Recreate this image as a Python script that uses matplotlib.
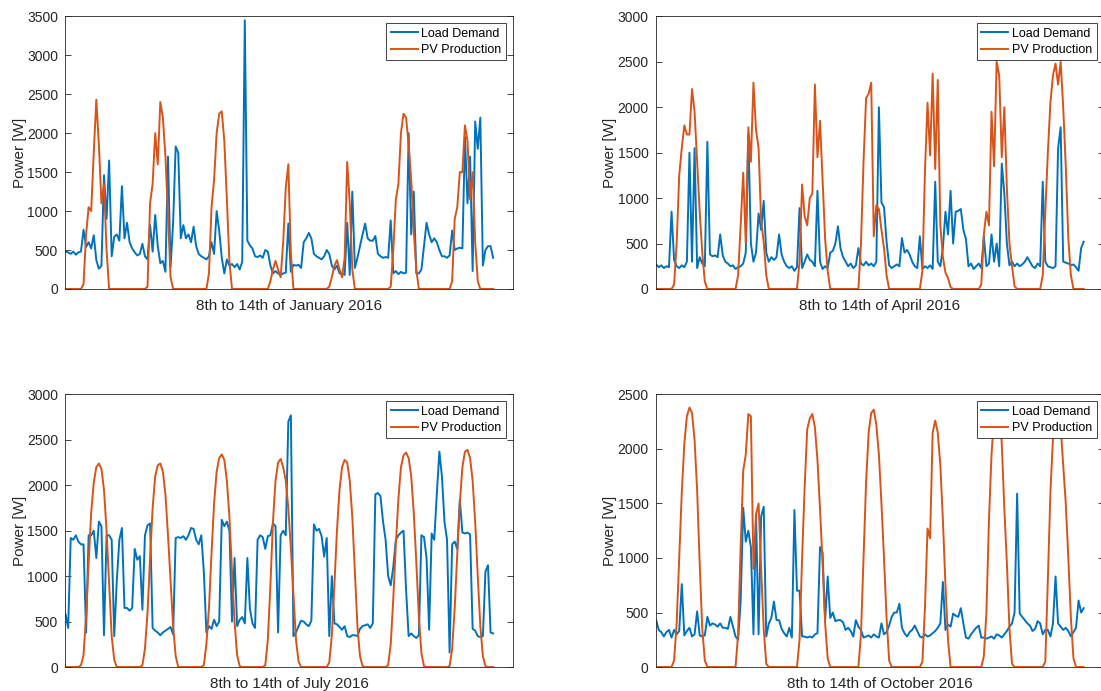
import numpy as np
import matplotlib
matplotlib.use('Agg')
from matplotlib import pyplot as plt

plt.rcParams['font.family'] = ['Liberation Sans', 'DejaVu Sans']

# hourly values, one row per day (8th..14th)
jan_load = [
    480, 470, 450, 480, 440, 470, 480, 760, 540, 600, 520, 690, 370, 260, 300, 1460, 900, 1650, 420, 670, 700, 620, 1320, 650,
    850, 600, 520, 470, 430, 450, 580, 420, 380, 820, 480, 950, 550, 330, 360, 220, 1700, 280, 850, 1830, 1750, 650, 820, 650,
    700, 600, 800, 550, 450, 420, 400, 380, 420, 600, 450, 1000, 750, 400, 200, 380, 300, 320, 280, 320, 250, 350, 3450, 620,
    560, 520, 420, 410, 430, 400, 500, 480, 300, 200, 230, 200, 180, 200, 210, 840, 220, 310, 300, 310, 270, 600, 650, 720,
    650, 450, 420, 400, 380, 420, 500, 450, 300, 250, 300, 200, 200, 180, 850, 180, 1250, 270, 400, 550, 700, 840, 650, 620,
    620, 680, 450, 420, 400, 410, 400, 880, 200, 230, 190, 220, 200, 210, 2000, 700, 1250, 200, 200, 250, 550, 850, 700, 600,
    650, 600, 500, 420, 420, 400, 430, 750, 500, 520, 530, 520, 1950, 1100, 1700, 230, 2150, 1800, 2200, 300, 500, 550, 550, 400,
]
jan_pv = [
    0, 0, 0, 0, 0, 0, 0, 60, 700, 1050, 1000, 1750, 2430, 1850, 1100, 1350, 500, 0, 0, 0, 0, 0, 0, 0,
    0, 0, 0, 0, 0, 0, 0, 0, 30, 1100, 1350, 2000, 1600, 2400, 2200, 1700, 950, 150, 0, 0, 0, 0, 0, 0,
    0, 0, 0, 0, 0, 0, 0, 0, 200, 1050, 1400, 2000, 2250, 2280, 1900, 1150, 350, 0, 0, 0, 0, 0, 0, 0,
    0, 0, 0, 0, 0, 0, 0, 0, 100, 250, 360, 250, 150, 600, 1300, 1600, 450, 0, 0, 0, 0, 0, 0, 0,
    0, 0, 0, 0, 0, 0, 0, 30, 150, 300, 370, 250, 150, 400, 1630, 1100, 250, 0, 0, 0, 0, 0, 0, 0,
    0, 0, 0, 0, 0, 0, 0, 30, 500, 1150, 1350, 2000, 2250, 2200, 1850, 1400, 750, 250, 0, 0, 0, 0, 0, 0,
    0, 0, 0, 0, 0, 0, 0, 100, 900, 1050, 1500, 1500, 2100, 1900, 1150, 1500, 600, 100, 0, 0, 0, 0, 0, 0,
]

apr_load = [
    270, 240, 260, 230, 250, 240, 850, 320, 250, 230, 260, 240, 300, 1500, 300, 1550, 230, 350, 280, 250, 1620, 380, 360, 370,
    350, 600, 370, 300, 280, 250, 260, 220, 240, 250, 280, 400, 1700, 500, 300, 400, 830, 650, 970, 400, 300, 350, 320, 350,
    600, 380, 300, 250, 230, 250, 200, 240, 890, 230, 300, 380, 320, 300, 250, 1080, 300, 220, 250, 230, 400, 420, 500, 690,
    450, 350, 300, 250, 280, 230, 260, 450, 280, 260, 300, 260, 280, 250, 300, 2000, 950, 900, 520, 260, 230, 250, 270, 250,
    560, 400, 430, 380, 300, 250, 230, 580, 220, 250, 230, 260, 220, 1180, 300, 250, 450, 850, 600, 1080, 500, 850, 860, 880,
    650, 550, 250, 280, 220, 250, 280, 230, 580, 250, 280, 600, 300, 500, 250, 1380, 1050, 500, 260, 300, 250, 280, 250, 270,
    300, 350, 300, 250, 230, 280, 250, 1180, 300, 250, 240, 230, 250, 1550, 1780, 300, 290, 280, 260, 270, 240, 200, 450, 520,
]
apr_pv = [
    0, 0, 0, 0, 0, 0, 0, 50, 500, 1250, 1550, 1800, 1700, 1700, 2200, 1950, 1400, 850, 400, 80, 0, 0, 0, 0,
    0, 0, 0, 0, 0, 0, 0, 0, 150, 700, 1280, 500, 1780, 1400, 2270, 1750, 1550, 750, 520, 150, 0, 0, 0, 0,
    0, 0, 0, 0, 0, 0, 0, 0, 300, 1150, 800, 700, 1000, 1050, 2250, 1450, 1850, 1200, 550, 200, 0, 0, 0, 0,
    0, 0, 0, 0, 0, 0, 0, 0, 500, 1400, 2100, 2150, 2270, 580, 920, 880, 650, 450, 150, 0, 0, 0, 0, 0,
    0, 0, 0, 0, 0, 0, 0, 0, 200, 1300, 2050, 1470, 2370, 1320, 2300, 700, 350, 180, 120, 20, 0, 0, 0, 0,
    0, 0, 0, 0, 0, 0, 0, 50, 600, 850, 700, 1950, 1350, 2500, 2350, 1450, 2000, 1100, 500, 250, 30, 0, 0, 0,
    0, 0, 0, 0, 0, 0, 0, 150, 850, 1500, 2050, 2350, 2480, 2250, 2500, 2000, 1350, 550, 150, 0, 0, 0, 0, 0,
]

jul_load = [
    580, 430, 1420, 1400, 1450, 1380, 1350, 1350, 380, 1450, 1450, 1500, 1200, 1600, 1550, 350, 1450, 1450, 1400, 340, 950, 1400, 1530, 650,
    650, 620, 650, 1300, 1180, 1220, 630, 1450, 1560, 1580, 430, 400, 380, 350, 380, 400, 420, 440, 360, 1420, 1430, 1420, 1440, 1400,
    1450, 1530, 1520, 1400, 1350, 1450, 1050, 380, 450, 420, 520, 450, 500, 1620, 1550, 1600, 1500, 500, 1200, 450, 520, 550, 480, 1200,
    640, 480, 430, 1400, 1450, 1430, 1300, 1440, 1450, 1580, 1550, 380, 1450, 1500, 1450, 2700, 2770, 340, 380, 450, 510, 500, 470, 450,
    510, 1570, 1500, 1520, 1440, 1215, 1420, 340, 1000, 480, 470, 440, 410, 450, 340, 330, 350, 350, 340, 420, 450, 460, 470, 430,
    480, 1900, 1915, 1880, 1600, 1400, 1000, 900, 1100, 1400, 1450, 1480, 1500, 850, 340, 370, 340, 320, 350, 1450, 1430, 1200, 410, 1470,
    1400, 1900, 2370, 2100, 1600, 1400, 160, 1350, 1380, 1300, 1840, 1480, 1470, 1480, 1460, 420, 400, 340, 330, 340, 1050, 1120, 380, 370,
]
jul_pv = [
    0, 0, 0, 0, 0, 0, 20, 130, 560, 1150, 1700, 2030, 2200, 2240, 2180, 1950, 1500, 920, 340, 80, 0, 0, 0, 0,
    0, 0, 0, 0, 0, 0, 20, 200, 600, 1200, 1750, 2100, 2220, 2240, 2150, 1900, 1450, 950, 450, 120, 0, 0, 0, 0,
    0, 0, 0, 0, 0, 0, 20, 250, 650, 1250, 1800, 2150, 2300, 2340, 2280, 2050, 1650, 1050, 500, 130, 10, 0, 0, 0,
    0, 0, 0, 0, 0, 0, 20, 300, 900, 1600, 2050, 2250, 2290, 2200, 2050, 1750, 1300, 800, 300, 60, 0, 0, 0, 0,
    0, 0, 0, 0, 0, 0, 0, 50, 350, 900, 1500, 1950, 2200, 2280, 2250, 2050, 1650, 1050, 450, 120, 10, 0, 0, 0,
    0, 0, 0, 0, 0, 0, 20, 250, 750, 1350, 1850, 2200, 2330, 2360, 2300, 2100, 1700, 1150, 550, 150, 10, 0, 0, 0,
    0, 0, 0, 0, 0, 0, 10, 200, 650, 1250, 1800, 2200, 2370, 2390, 2300, 2050, 1600, 1000, 450, 120, 10, 0, 0, 0,
]

oct_load = [
    430, 340, 320, 280, 320, 340, 270, 340, 300, 330, 760, 290, 330, 360, 280, 300, 510, 290, 280, 290, 460, 380, 400, 390,
    370, 400, 360, 360, 350, 460, 370, 280, 250, 600, 1460, 1150, 1250, 1100, 300, 1400, 300, 1380, 1470, 280, 400, 450, 600, 430,
    430, 350, 310, 280, 360, 270, 1440, 700, 700, 280, 280, 270, 280, 270, 300, 310, 1100, 1050, 430, 830, 450, 500, 420, 430,
    430, 410, 340, 360, 330, 280, 430, 370, 340, 270, 280, 290, 270, 300, 280, 270, 400, 300, 320, 380, 460, 500, 500, 580,
    360, 310, 280, 320, 340, 380, 330, 280, 270, 300, 280, 290, 310, 330, 360, 400, 780, 340, 390, 370, 490, 470, 460, 540,
    400, 270, 260, 300, 330, 360, 380, 270, 270, 260, 270, 280, 260, 300, 290, 270, 300, 330, 370, 400, 500, 1590, 490, 460,
    430, 400, 380, 330, 350, 420, 400, 300, 340, 340, 280, 400, 830, 400, 370, 340, 360, 330, 280, 320, 360, 610, 500, 540,
]
oct_pv = [
    0, 0, 0, 0, 0, 0, 0, 60, 400, 1000, 1600, 2050, 2300, 2380, 2330, 2080, 1620, 950, 350, 60, 0, 0, 0, 0,
    0, 0, 0, 0, 0, 0, 0, 0, 300, 1100, 1800, 1950, 2320, 2300, 900, 1400, 1500, 900, 350, 30, 0, 0, 0, 0,
    0, 0, 0, 0, 0, 0, 0, 0, 250, 1000, 1650, 2180, 2280, 2320, 2200, 1900, 1450, 950, 400, 80, 0, 0, 0, 0,
    0, 0, 0, 0, 0, 0, 0, 0, 300, 1000, 1700, 2150, 2330, 2360, 2220, 1950, 1500, 1000, 450, 60, 0, 0, 0, 0,
    0, 0, 0, 0, 0, 0, 0, 0, 50, 550, 1270, 1180, 2150, 2260, 2150, 1850, 1350, 750, 250, 0, 0, 0, 0, 0,
    0, 0, 0, 0, 0, 0, 0, 0, 100, 500, 1350, 1950, 2300, 2430, 2400, 2050, 1450, 950, 350, 30, 0, 0, 0, 0,
    0, 0, 0, 0, 0, 0, 0, 0, 50, 800, 1600, 2100, 2380, 2400, 2200, 1850, 1500, 1000, 450, 80, 0, 0, 0, 0,
]

titles = ['8th to 14th of January 2016', '8th to 14th of April 2016',
          '8th to 14th of July 2016', '8th to 14th of October 2016']
ymax = [3500, 3000, 3000, 2500]
loads = [jan_load, apr_load, jul_load, oct_load]
pvs = [jan_pv, apr_pv, jul_pv, oct_pv]

blue = '#0072BD'
orange = '#D95319'
dark = '#262626'

fig = plt.figure(figsize=(11.01, 6.91), dpi=100)
w, h = 0.4069, 0.3945
positions = [[0.0590, 0.5818, w, h], [0.5954, 0.5818, w, h],
             [0.0590, 0.0347, w, h], [0.5954, 0.0347, w, h]]

for pos, load, pv, title, top in zip(positions, loads, pvs, titles, ymax):
    ax = fig.add_axes(pos)
    t = np.arange(len(load))
    ax.plot(t, load, color=blue, lw=1.4, label='Load Demand')
    ax.plot(t, pv, color=orange, lw=1.4, label='PV Production')
    ax.set_xlim(-0.25, 174.75)
    ax.set_ylim(0, top)
    ax.set_yticks(np.arange(0, top + 1, 500))
    ax.set_xticks([])
    ax.tick_params(axis='y', direction='in', length=4, width=0.6, right=True,
                   labelsize=10, colors=dark, pad=5)
    for s in ax.spines.values():
        s.set_color(dark)
        s.set_linewidth(0.6)
    ax.set_ylabel('Power [W]', fontsize=11, color=dark, labelpad=0)
    ax.set_xlabel(title, fontsize=11, color=dark, labelpad=7)
    leg = ax.legend(loc='upper right', fontsize=9, fancybox=False, framealpha=1,
                    edgecolor=dark, handlelength=2.15, handletextpad=0.3,
                    labelspacing=0.35, borderpad=0.35, borderaxespad=0.55)
    leg.get_frame().set_linewidth(0.6)
    leg.set_zorder(5)

fig.savefig('out.png', dpi=100)
